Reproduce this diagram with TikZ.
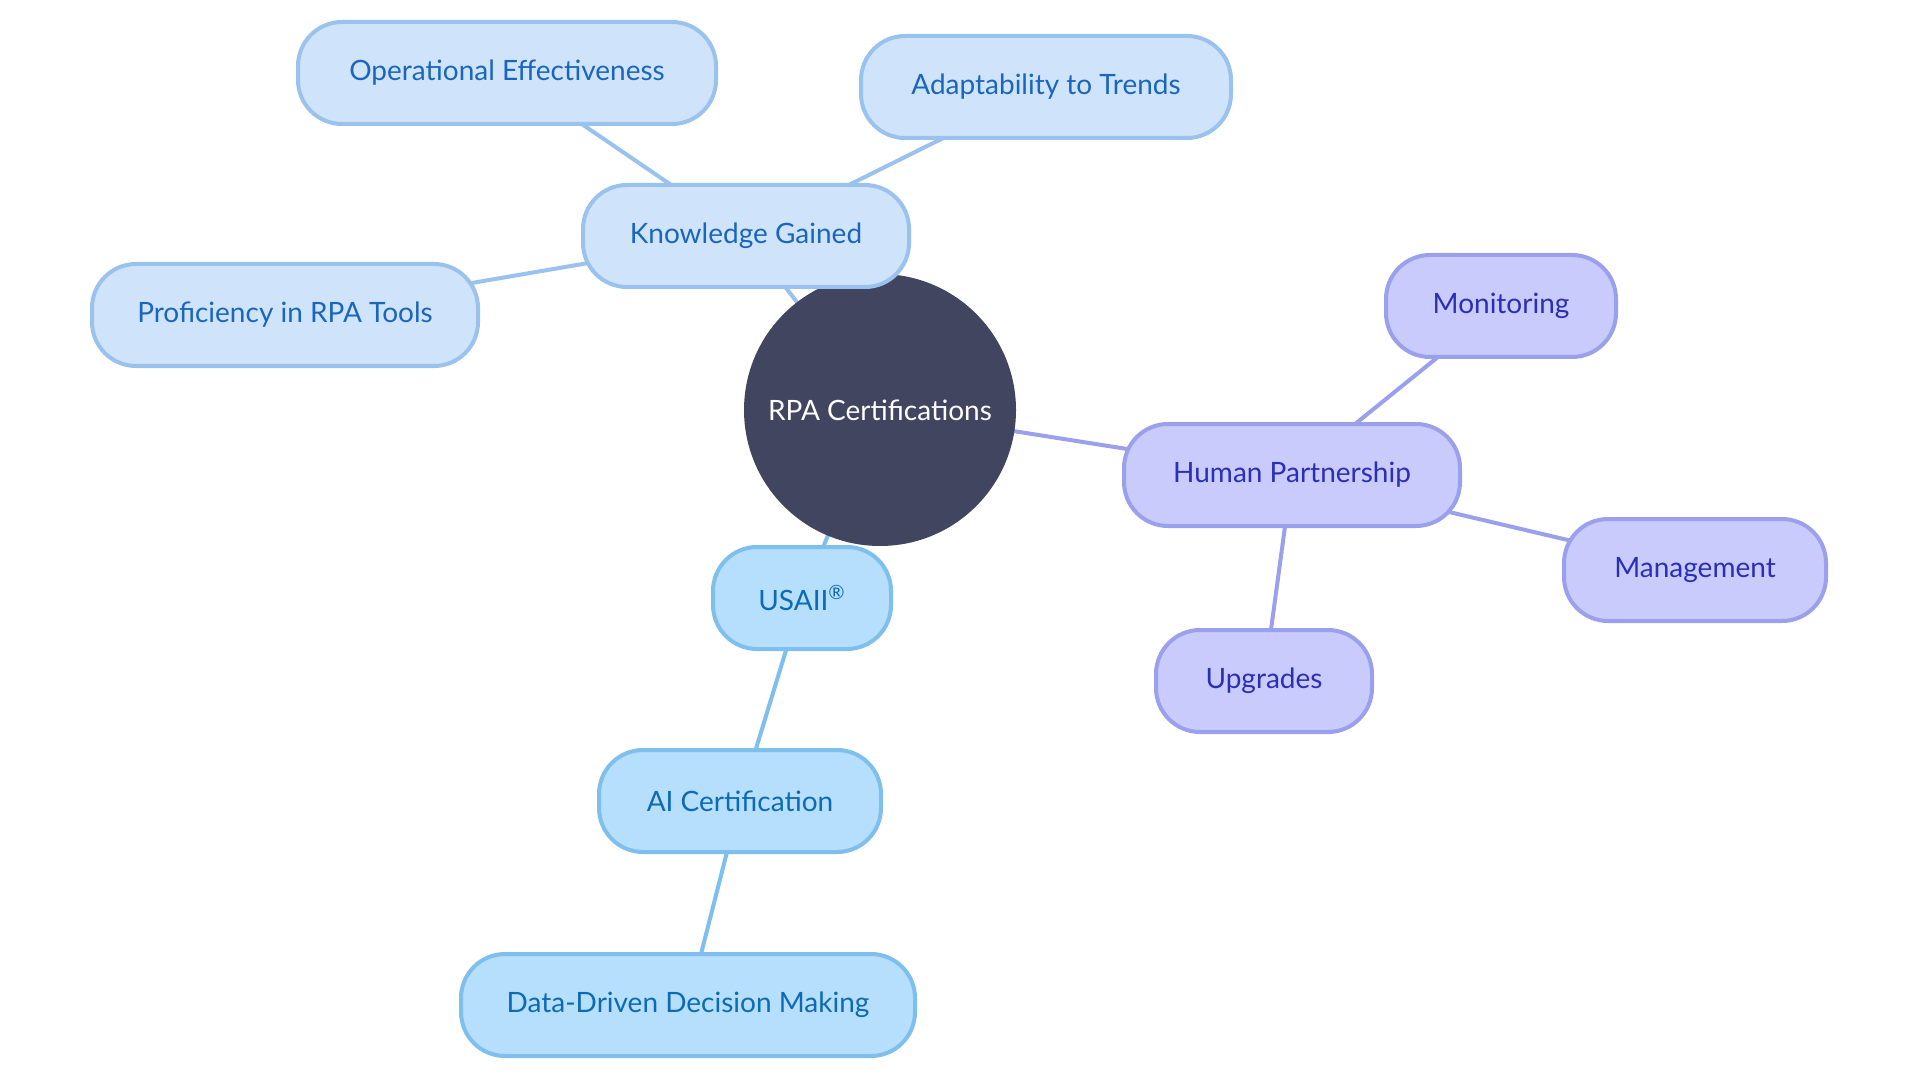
\documentclass[tikz,border=0pt]{standalone}
\usepackage{fontspec}
\setmainfont{Lato}
\usetikzlibrary{backgrounds}

\definecolor{hubfill}{HTML}{414560}
\definecolor{kgfill}{HTML}{CFE3FB}
\definecolor{kgline}{HTML}{9AC2EE}
\definecolor{kgtext}{HTML}{1A66BE}
\definecolor{aifill}{HTML}{B5DFFC}
\definecolor{ailine}{HTML}{7FBFEE}
\definecolor{aitext}{HTML}{0D6AB5}
\definecolor{hpfill}{HTML}{C8CBFC}
\definecolor{hpline}{HTML}{9AA0EC}
\definecolor{hptext}{HTML}{2B2FB5}

\begin{document}
\begin{tikzpicture}[x=0.5pt, y=-0.5pt,
    font=\fontsize{14}{16}\selectfont,
    leaf/.style={draw, rectangle, rounded corners=22pt, line width=2pt,
                 minimum height=51pt, inner sep=0pt},
    kgbox/.style={leaf, fill=kgfill, draw=kgline, text=kgtext},
    aibox/.style={leaf, fill=aifill, draw=ailine, text=aitext},
    hpbox/.style={leaf, fill=hpfill, draw=hpline, text=hptext},
    link/.style={line width=2pt}
]
    \useasboundingbox (0,0) rectangle (1920,1080);

    % centre
    \node[circle, fill=hubfill, text=white, minimum size=136pt] (rpa) at (880, 410) {RPA Certifications};

    % Knowledge Gained
    \node[kgbox, minimum width=163pt] (know) at (746, 236) {Knowledge Gained};
    \node[kgbox, minimum width=209pt] (opeff) at (507, 73) {Operational Effectiveness};
    \node[kgbox, minimum width=185pt] (adapt) at (1046, 87) {Adaptability to Trends};
    \node[kgbox, minimum width=193pt] (prof) at (285, 315) {Proficiency in RPA Tools};

    % Human Partnership
    \node[hpbox, minimum width=168pt] (human) at (1292, 475) {Human Partnership};
    \node[hpbox, minimum width=115pt] (monit) at (1501, 306) {Monitoring};
    \node[hpbox, minimum width=131pt] (manag) at (1695, 570) {Management};
    \node[hpbox, minimum width=108pt] (upgr) at (1264, 681) {Upgrades};

    % USAII
    \node[aibox, minimum width=89pt] (usaii) at (802, 598) {USAII\textsuperscript{®}};
    \node[aibox, minimum width=141pt] (aicert) at (740, 801) {AI Certification};
    \node[aibox, minimum width=227pt] (ddm) at (688, 1005) {Data-Driven Decision Making};

    % Verbindungen
    \begin{pgfonlayer}{background}
        \draw[link, kgline] (rpa.center) -- (know.center);
        \draw[link, kgline] (know.center) -- (opeff.center);
        \draw[link, kgline] (know.center) -- (adapt.center);
        \draw[link, kgline] (know.center) -- (prof.center);
        \draw[link, hpline] (rpa.center) -- (human.center);
        \draw[link, hpline] (human.center) -- (monit.center);
        \draw[link, hpline] (human.center) -- (manag.center);
        \draw[link, hpline] (human.center) -- (upgr.center);
        \draw[link, ailine] (rpa.center) -- (usaii.center);
        \draw[link, ailine] (usaii.center) -- (aicert.center);
        \draw[link, ailine] (aicert.center) -- (ddm.center);
    \end{pgfonlayer}

\end{tikzpicture}
\end{document}
